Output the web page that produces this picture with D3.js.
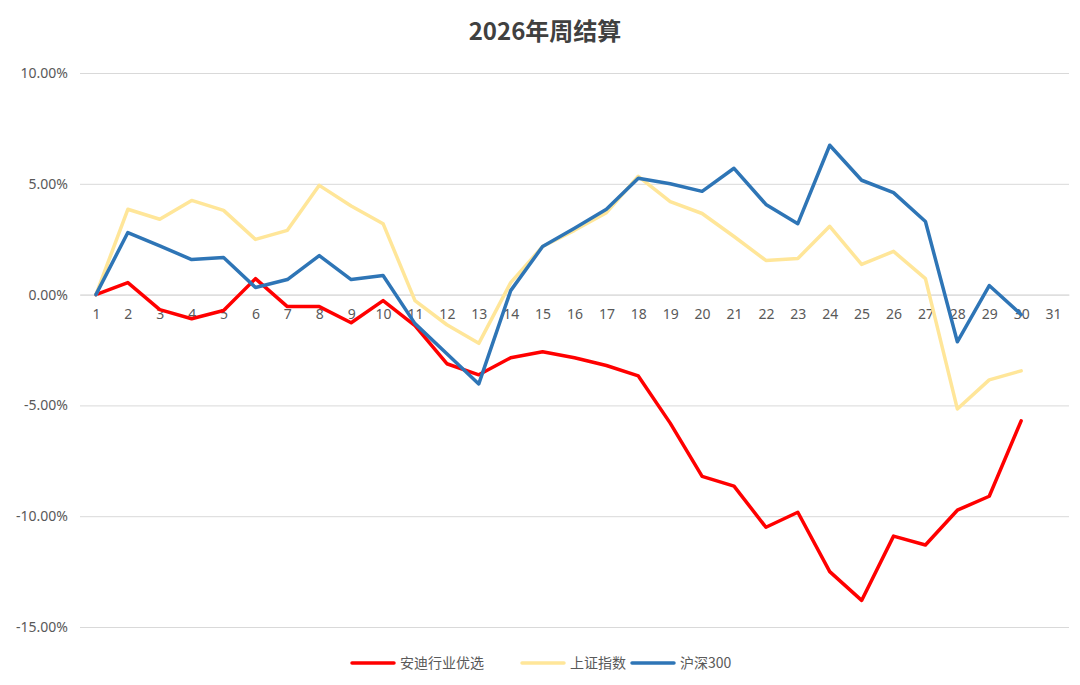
<!DOCTYPE html>
<html><head><meta charset="utf-8">
<script src="https://cdn.jsdelivr.net/npm/d3@7"></script>
<style>body{margin:0;background:#fff;font-family:"Noto Sans CJK SC","Noto Sans",sans-serif}</style>
</head><body><svg id="chart"></svg>
<script>
const width = 1080, height = 685;
const weeks = d3.range(1, 32);
const andi = [0,0.54,-0.68,-1.09,-0.72,0.72,-0.54,-0.54,-1.27,-0.27,-1.4,-3.12,-3.62,-2.85,-2.58,-2.85,-3.2,-3.67,-5.8,-8.2,-8.64,-10.5,-9.82,-12.5,-13.8,-10.9,-11.3,-9.73,-9.1,-5.7];
const sse = [0,3.85,3.4,4.25,3.8,2.49,2.9,4.93,4.0,3.2,-0.27,-1.36,-2.2,0.54,2.17,2.9,3.7,5.34,4.2,3.66,2.62,1.54,1.63,3.08,1.36,1.95,0.72,-5.16,-3.85,-3.44];
const hs300 = [0,2.8,2.2,1.58,1.67,0.32,0.68,1.76,0.68,0.86,-1.31,-2.67,-4.03,0.18,2.17,2.99,3.85,5.25,5.0,4.66,5.7,4.07,3.2,6.74,5.16,4.6,3.3,-2.13,0.41,-0.9];
const yTicks = [10, 5, 0, -5, -10, -15];
const series = [
  {name: "安迪行业优选", values: andi, color: "#ff0000"},
  {name: "上证指数", values: sse, color: "#ffe699"},
  {name: "沪深300", values: hs300, color: "#2e75b6"}
];

const svg = d3.select("#chart").attr("width", width).attr("height", height);

svg.append("text").attr("x", 545).attr("y", 40).attr("text-anchor", "middle")
  .style("font-size", "24px").style("font-weight", "bold").style("fill", "#404040")
  .text("2026年周结算");

let x = d3.scalePoint().domain(weeks).range([80, 1069]).padding(0.5);
let y = d3.scaleLinear().domain([-15, 10]).range([627, 73]);

// grid + y labels
svg.append("g").call(d3.axisLeft(y).tickValues(yTicks).tickSize(-(1069 - 80))
    .tickFormat(d => d.toFixed(2) + "%"))
  .attr("transform", "translate(80,0)")
  .call(g => g.select(".domain").remove())
  .call(g => g.selectAll("line").attr("stroke", "#d9d9d9"))
  .call(g => g.selectAll("text").attr("x", -12).style("font-size", "14px").style("fill", "#595959")
    .style("font-family", "Noto Sans, sans-serif"));

// x axis along zero
svg.append("g").attr("transform", "translate(0," + y(0) + ")")
  .call(d3.axisBottom(x).tickSize(0).tickPadding(14))
  .call(g => g.select(".domain").attr("stroke", "#d9d9d9"))
  .call(g => g.selectAll("text").style("font-size", "14px").style("fill", "#595959")
    .style("font-family", "Noto Sans, sans-serif"));

let line = d3.line().x((d, i) => x(weeks[i])).y(d => y(d));
series.forEach(s => {
  svg.append("path").datum(s.values).attr("d", line)
    .attr("fill", "none").attr("stroke", s.color).attr("stroke-width", 3.5)
    .attr("stroke-linejoin", "round").attr("stroke-linecap", "round");
});

// legend
const lx = [352, 522, 632];
series.forEach((s, i) => {
  const g = svg.append("g").attr("transform", "translate(" + lx[i] + ",663)");
  g.append("line").attr("x1", 0).attr("x2", 42).attr("stroke", s.color).attr("stroke-width", 3.5).attr("stroke-linecap", "round");
  g.append("text").attr("x", 48).attr("y", 5).style("font-size", "14px").style("fill", "#595959").text(s.name);
});
</script></body></html>
